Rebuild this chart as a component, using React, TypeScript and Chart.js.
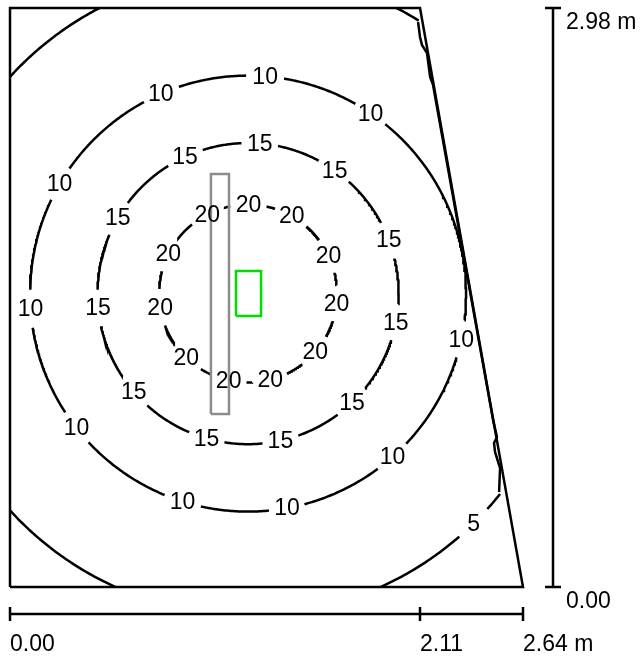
import { useEffect, useRef } from "react";
import { Chart, registerables } from "chart.js";

Chart.register(...registerables);

// room outline (m)
const roomX = [0, 0, 2.11, 2.64, 0];
const roomY = [0, 2.98, 2.98, 0, 0];

// luminaire outline (grey)
const lumX = [1.034, 1.034, 1.127, 1.127, 1.034];
const lumY = [0.89, 2.126, 2.126, 0.89, 0.89];

// task area outline (green)
const taskX = [1.163, 1.163, 1.292, 1.292, 1.163];
const taskY = [1.395, 1.626, 1.626, 1.395, 1.395];

// isolux lines: centre, levels and radii
const centreX = 1.225;
const centreY = 1.51;
const levels = [20, 15, 10, 5];
const radii = [0.458, 0.775, 1.122, 1.657];

// where the value labels sit on each line (deg, counter-clockwise from +x)
const labelAngles = [
  [117.3, 89.7, 60.6, 153.6, 25.4, 189, -6.4, 226, -40.9, 257.4, 284.4],
  [114.7, 85.5, 54.9, 149.9, 20.8, 185.4, -11, 220.7, -46.3, 254, 282.4],
  [113.6, 85.5, 55.8, 149.8, 184, -12.1, 218.1, -48.5, 252.5, 280.3],
  [-45.5],
];

// visible part of each line (deg)
const arcs = [
  [[0, 360]],
  [[0, 360]],
  [[0, 360]],
  [[110, 150], [200, 250], [-70, -38.3], [58, 70]],
];

// the 5 line where it runs along the slanted wall
const wall5X = [2.517, 2.522, 2.496, 2.491, 2.506, 2.486, 2.177, 2.162, 2.146, 2.12, 2.11, 2.1];
const wall5Y = [0.489, 0.612, 0.695, 0.741, 0.772, 0.859, 2.584, 2.625, 2.748, 2.79, 2.831, 2.908];

// dimension rulers
const xTicks = [0, 2.11, 2.64];
const xTickLabels = ["0.00", "2.11", "2.64 m"];
const yTicks = [0, 2.98];
const yTickLabels = ["0.00", "2.98 m"];

const FONT = '23px "Liberation Sans", Arial, sans-serif';
const LABEL_GAP = 0.092; // half length of the break around a label (m)

const toPoints = (xs: number[], ys: number[]) => xs.map((x, i) => ({ x, y: ys[i] }));

const contourPoints = (i: number) => {
  const r = radii[i];
  const gap = (LABEL_GAP / r) * (180 / Math.PI);
  const pts: { x: number; y: number }[] = [];
  arcs[i].forEach(([a0, a1]) => {
    for (let a = a0; a <= a1 + 1e-6; a += 0.5) {
      const inGap = labelAngles[i].some((l) => {
        const d = ((((a - l) % 360) + 540) % 360) - 180;
        return Math.abs(d) < gap;
      });
      if (inGap) {
        pts.push({ x: NaN, y: NaN });
        continue;
      }
      const t = (a * Math.PI) / 180;
      pts.push({ x: centreX + r * Math.cos(t), y: centreY + r * Math.sin(t) });
    }
    pts.push({ x: NaN, y: NaN });
  });
  return pts;
};

const isoPlugin = {
  id: "isoLabels",
  afterDatasetsDraw(chart: any) {
    const { ctx, chartArea } = chart;
    const xs = chart.scales.x;
    const ys = chart.scales.y;
    ctx.save();
    ctx.font = FONT;
    ctx.fillStyle = "#000";
    ctx.textAlign = "center";
    ctx.textBaseline = "middle";
    levels.forEach((lv, i) => {
      labelAngles[i].forEach((a) => {
        const t = (a * Math.PI) / 180;
        const px = xs.getPixelForValue(centreX + radii[i] * Math.cos(t));
        const py = ys.getPixelForValue(centreY + radii[i] * Math.sin(t));
        ctx.fillText(String(lv), px, py + 1);
      });
    });

    ctx.strokeStyle = "#000";
    ctx.lineWidth = 2.5;
    ctx.textAlign = "left";
    ctx.textBaseline = "alphabetic";

    // bottom ruler
    const by = chartArea.bottom + 27;
    ctx.beginPath();
    ctx.moveTo(xs.getPixelForValue(xTicks[0]), by);
    ctx.lineTo(xs.getPixelForValue(xTicks[xTicks.length - 1]), by);
    xTicks.forEach((v) => {
      const px = xs.getPixelForValue(v);
      ctx.moveTo(px, by - 7);
      ctx.lineTo(px, by + 7);
    });
    ctx.stroke();
    xTicks.forEach((v, i) => {
      ctx.fillText(xTickLabels[i], xs.getPixelForValue(v), by + 37);
    });

    // right ruler
    const rx = chartArea.right + 30;
    ctx.beginPath();
    ctx.moveTo(rx, ys.getPixelForValue(yTicks[0]));
    ctx.lineTo(rx, ys.getPixelForValue(yTicks[yTicks.length - 1]));
    yTicks.forEach((v) => {
      const py = ys.getPixelForValue(v);
      ctx.moveTo(rx - 8, py);
      ctx.lineTo(rx + 8, py);
    });
    ctx.stroke();
    yTicks.forEach((v, i) => {
      ctx.fillText(yTickLabels[i], rx + 13, ys.getPixelForValue(v) + 21);
    });
    ctx.restore();
  },
};

export default function App() {
  const canvasRef = useRef<HTMLCanvasElement>(null);

  useEffect(() => {
    document.body.style.margin = "0";
    if (!canvasRef.current) return;
    const outline = (data: any, color: string, width: number) => ({
      data,
      showLine: true,
      borderColor: color,
      borderWidth: width,
      pointRadius: 0,
      fill: false,
      tension: 0,
      clip: 4,
    });
    const contour = (data: any) => ({
      data,
      showLine: true,
      borderColor: "#000",
      borderWidth: 2.5,
      pointRadius: 0,
      fill: false,
      tension: 0,
      spanGaps: false,
      clip: 0,
    });

    const chart = new Chart(canvasRef.current, {
      type: "scatter",
      data: {
        datasets: [
          outline(toPoints(taskX, taskY), "#00dd00", 2.5),
          outline(toPoints(lumX, lumY), "#8c8c8c", 2.5),
          outline(toPoints(roomX, roomY), "#000", 2.5),
          contour(toPoints(wall5X, wall5Y)),
          ...levels.map((_, i) => contour(contourPoints(i))),
        ] as any,
      },
      options: {
        animation: false,
        responsive: false,
        events: [],
        layout: { padding: { left: 10, top: 8, right: 117, bottom: 69 } },
        plugins: { legend: { display: false }, tooltip: { enabled: false } },
        scales: {
          x: { type: "linear", min: 0, max: 2.64, display: false },
          y: { type: "linear", min: 0, max: 2.98, display: false },
        },
      },
      plugins: [isoPlugin],
    });
    return () => chart.destroy();
  }, []);

  return (
    <div style={{ width: 640, height: 656, background: "#fff" }}>
      <canvas ref={canvasRef} width={640} height={656} />
    </div>
  );
}
